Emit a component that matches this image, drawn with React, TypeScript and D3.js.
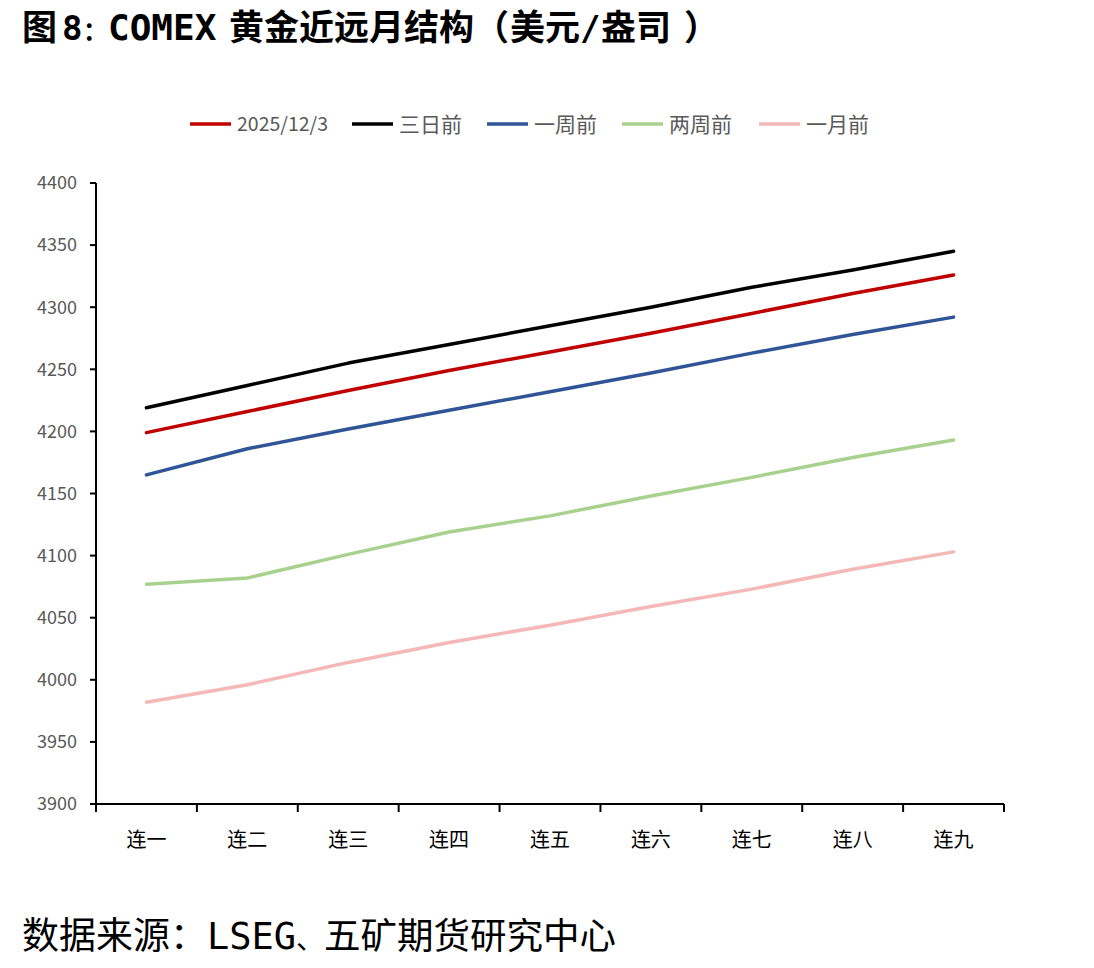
import React from "react";
import * as d3 from "d3";

const categories = ["连一", "连二", "连三", "连四", "连五", "连六", "连七", "连八", "连九"];
const seriesNames = ["2025/12/3", "三日前", "一周前", "两周前", "一月前"];
const seriesColors = ["#C00000", "#000000", "#2F5597", "#A9D18E", "#F4B8B8"];
const s20251203 = [4199, 4216, 4233, 4249, 4264, 4279, 4295, 4311, 4326];
const sThreeDays = [4219, 4237, 4255, 4270, 4285, 4300, 4316, 4330, 4345];
const sOneWeek = [4165, 4186, 4202, 4217, 4232, 4247, 4263, 4278, 4292];
const sTwoWeeks = [4077, 4082, 4101, 4119, 4132, 4148, 4163, 4179, 4193];
const sOneMonth = [3982, 3996, 4014, 4030, 4044, 4059, 4073, 4089, 4103];
const seriesValues = [s20251203, sThreeDays, sOneWeek, sTwoWeeks, sOneMonth];
const yTicks = [3900, 3950, 4000, 4050, 4100, 4150, 4200, 4250, 4300, 4350, 4400];

const cjk = "'Noto Sans CJK SC', sans-serif";
const mono = "'DejaVu Sans Mono', monospace";

type Seg = { t: string; x: number; size: number; font: string };
const titleSegs: Seg[] = [
  { t: "图", x: 22, size: 35, font: cjk },
  { t: "8", x: 62, size: 34, font: mono },
  { t: "：", x: 83, size: 25, font: cjk },
  { t: "COMEX", x: 108, size: 36, font: mono },
  { t: "黄金近远月结构", x: 229, size: 35, font: cjk },
  { t: "（", x: 474, size: 35, font: cjk },
  { t: "美元", x: 510, size: 35, font: cjk },
  { t: "/", x: 580, size: 34, font: mono },
  { t: "盎司", x: 601, size: 35, font: cjk },
  { t: "）", x: 684, size: 35, font: cjk },
];
const footSegs: Seg[] = [
  { t: "数据来源：", x: 22, size: 37, font: cjk },
  { t: "LSEG", x: 207, size: 37, font: mono },
  { t: "、", x: 296, size: 28, font: cjk },
  { t: "五矿期货研究中心", x: 324, size: 36.5, font: cjk },
];

export default function App() {
  const W = 1094, H = 968;
  const left = 96, right = 1004, top = 183, bottom = 804;
  const x = d3.scaleBand<string>().domain(categories).range([left, right]);
  const y = d3.scaleLinear().domain([3900, 4400]).range([bottom, top]);
  const line = d3.line<number>()
    .x((_, i) => (x(categories[i]) as number) + x.bandwidth() / 2)
    .y((d) => y(d));
  const legendX = [190, 352, 487, 622, 759];
  return (
    <svg width={W} height={H} style={{ position: "absolute", left: 0, top: 0, background: "#fff" }}>
      {titleSegs.map((s, i) => (
        <text key={"t" + i} x={s.x} y={40} fontFamily={s.font} fontWeight={700} fontSize={s.size} fill="#000">{s.t}</text>
      ))}
      {seriesNames.map((n, i) => (
        <g key={n}>
          <line x1={legendX[i]} x2={legendX[i] + 41} y1={124} y2={124} stroke={seriesColors[i]} strokeWidth={3.5} />
          <text x={legendX[i] + 47} y={124} dy="0.36em" fontFamily={cjk} fontSize={i === 0 ? 19.5 : 21} fill="#595959">{n}</text>
        </g>
      ))}
      {yTicks.map((t) => (
        <g key={t}>
          <line x1={90} x2={left} y1={y(t)} y2={y(t)} stroke="#000" strokeWidth={2} />
          <text x={77} y={y(t)} dy="0.35em" textAnchor="end" fontFamily={cjk} fontSize={18} fill="#595959">{t}</text>
        </g>
      ))}
      <line x1={left} x2={left} y1={top} y2={bottom} stroke="#000" strokeWidth={2} />
      <line x1={left} x2={right} y1={bottom} y2={bottom} stroke="#000" strokeWidth={2} />
      {categories.map((c, i) => (
        <g key={c}>
          <line x1={x(c) as number} x2={x(c) as number} y1={bottom} y2={bottom + 8} stroke="#000" strokeWidth={2} />
          {i === categories.length - 1 && (
            <line x1={right} x2={right} y1={bottom} y2={bottom + 8} stroke="#000" strokeWidth={2} />
          )}
          <text x={(x(c) as number) + x.bandwidth() / 2} y={840} dy="0.36em" textAnchor="middle" fontFamily={cjk} fontSize={20} fill="#000">{c}</text>
        </g>
      ))}
      {seriesValues.map((vals, i) => (
        <path key={i} d={line(vals) || ""} fill="none" stroke={seriesColors[i]} strokeWidth={3.5} strokeLinecap="round" strokeLinejoin="round" />
      ))}
      {footSegs.map((s, i) => (
        <text key={"f" + i} x={s.x} y={949} fontFamily={s.font} fontSize={s.size} fill="#000">{s.t}</text>
      ))}
    </svg>
  );
}
